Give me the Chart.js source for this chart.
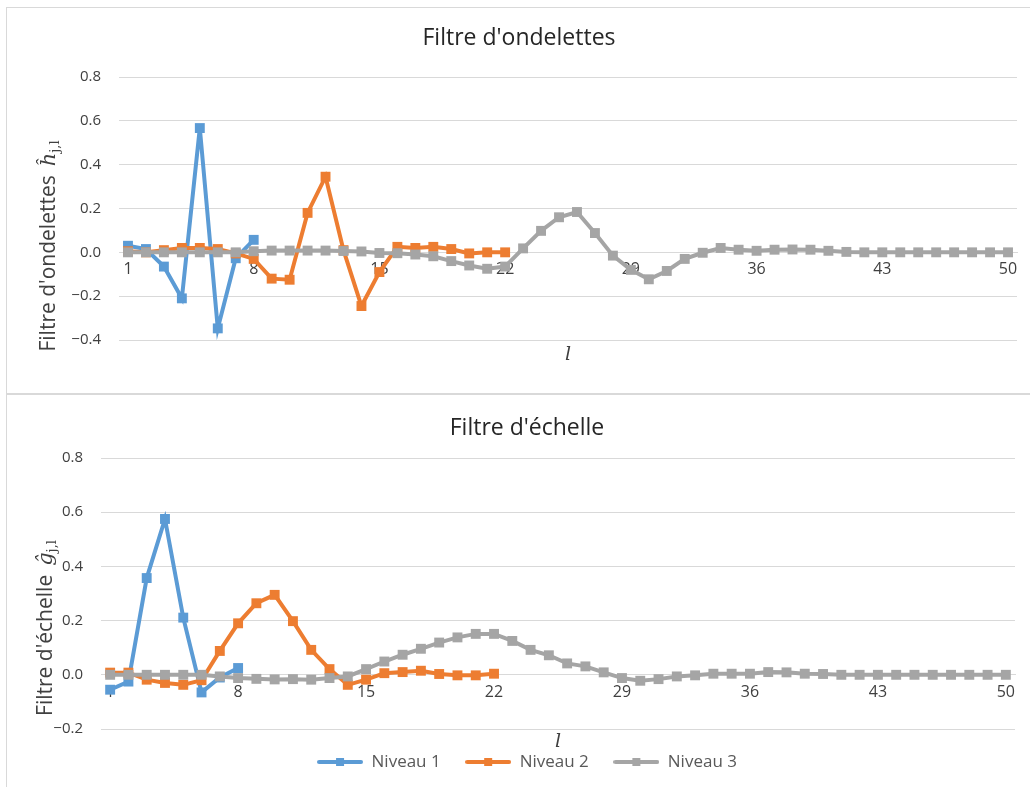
<!DOCTYPE html>
<html><head><meta charset="utf-8">
<script src="https://cdn.jsdelivr.net/npm/chart.js"></script>
<style>
html,body{margin:0;padding:0;background:#fff;overflow:hidden;width:1030px;height:787px;}
.box{position:absolute;border:1px solid #d9d9d9;overflow:hidden;background:#fff;}
#b1{left:6px;top:7px;width:1040px;height:385px;}
#b2{left:6px;top:394px;width:1040px;height:400px;}
canvas{display:block;}
</style></head><body>
<div class="box" id="b1"><canvas id="c1" width="1030" height="385"></canvas></div>
<div class="box" id="b2"><canvas id="c2" width="1030" height="392"></canvas></div>
<script>
// ---- data ----
const categories = ['1','2','3','4','5','6','7','8','9','10','11','12','13','14','15','16','17','18','19','20',
  '21','22','23','24','25','26','27','28','29','30','31','32','33','34','35','36','37','38','39','40',
  '41','42','43','44','45','46','47','48','49','50'];
const seriesNames = ['Niveau 1','Niveau 2','Niveau 3'];

// Filtre d'ondelettes (top)
const ondN1 = [0.03, 0.015, -0.065, -0.21, 0.567, -0.347, -0.027, 0.057];
const ondN2 = [0.005, 0.0, 0.01, 0.02, 0.02, 0.015, -0.005, -0.03, -0.12, -0.125, 0.18, 0.345, 0.01, -0.245, -0.09, 0.025, 0.02, 0.025, 0.015, -0.005, 0.0, 0.0];
const ondN3 = [0, 0, 0, 0, 0, 0, 0, 0.005, 0.008, 0.008, 0.008, 0.008, 0.006, 0.004, -0.003, -0.004, -0.01, -0.018, -0.04, -0.06,
  -0.075, -0.065, 0.018, 0.098, 0.16, 0.184, 0.088, -0.015, -0.08, -0.123, -0.085, -0.03, -0.002, 0.02, 0.012, 0.007, 0.012, 0.013, 0.012, 0.007,
  0.002, 0, 0, 0, 0, 0, 0, 0, 0, 0];

// Filtre d'échelle (bottom)
const echN1 = [-0.055, -0.025, 0.357, 0.575, 0.211, -0.065, -0.01, 0.025];
const echN2 = [0.008, 0.008, -0.018, -0.03, -0.037, -0.02, 0.088, 0.19, 0.264, 0.295, 0.198, 0.092, 0.021, -0.037, -0.018, 0.006, 0.01, 0.015, 0.003, -0.002, -0.002, 0.004];
const echN3 = [0, 0, 0, 0, 0, 0, -0.006, -0.012, -0.015, -0.017, -0.016, -0.018, -0.012, -0.006, 0.021, 0.049, 0.074, 0.096, 0.119, 0.138,
  0.151, 0.151, 0.125, 0.092, 0.072, 0.042, 0.031, 0.009, -0.012, -0.022, -0.016, -0.006, -0.002, 0.004, 0.004, 0.004, 0.01, 0.009, 0.004, 0.003,
  0, 0, 0, 0, 0, 0, 0, 0, 0, 0];

const colors = ['#5B9BD5', '#ED7D31', '#A5A5A5'];
const FONT = '"Open Sans", sans-serif';
const TXT = '#404040';

function legendImage(color){
  const c = document.createElement('canvas');
  c.width = 46; c.height = 10;
  const x = c.getContext('2d');
  x.strokeStyle = color; x.lineWidth = 4; x.lineCap = 'round';
  x.beginPath(); x.moveTo(2,5); x.lineTo(44,5); x.stroke();
  x.fillStyle = color; x.fillRect(19,1,8,8);
  return c;
}

function fmtTick(v){
  if (Math.abs(v) < 1e-9) return '0.0';
  const s = v.toFixed(1);
  return s.replace('-', '\u2212');
}

const axisTitles = {
  id: 'axisTitles',
  afterDraw(chart, args, o){
    const ctx = chart.ctx;
    ctx.save();
    ctx.fillStyle = TXT;
    ctx.translate(o.yx, o.yc);
    ctx.rotate(-Math.PI/2);
    const fMain = '21px ' + FONT;
    const fSym = 'italic 21px "DejaVu Serif", serif';
    const fSub = '13px "DejaVu Serif", serif';
    ctx.font = fMain; const w1 = ctx.measureText(o.main).width;
    ctx.font = fSym; const w2 = ctx.measureText(o.sym).width;
    ctx.font = fSub; const w3 = ctx.measureText(o.sub).width;
    const gap = 9;
    let x = -(w1 + gap + w2 + w3) / 2;
    ctx.textBaseline = 'alphabetic';
    ctx.font = fMain; ctx.fillText(o.main, x, 7); x += w1 + gap;
    ctx.font = fSym; ctx.fillText(o.sym, x, 7); x += w2;
    ctx.font = fSub; ctx.fillText(o.sub, x, 11);
    ctx.restore();
    ctx.save();
    ctx.fillStyle = TXT;
    ctx.font = 'italic 19px "DejaVu Serif", serif';
    ctx.textAlign = 'center'; ctx.textBaseline = 'middle';
    const ca = chart.chartArea;
    ctx.fillText('l', (ca.left + ca.right) / 2, ca.bottom + o.xdy);
    ctx.restore();
  }
};

function makeChart(id, cfg){
  const datasets = cfg.series.map((arr, i) => ({
    label: seriesNames[i],
    data: arr,
    borderColor: colors[i],
    backgroundColor: colors[i],
    borderWidth: 4,
    pointStyle: 'rect',
    pointRadius: 7,
    pointHoverRadius: 7,
    pointBorderWidth: 0,
    tension: 0,
    order: 3 - i
  }));
  return new Chart(document.getElementById(id), {
    type: 'line',
    data: { labels: categories, datasets },
    plugins: [axisTitles],
    options: {
      responsive: false,
      animation: false,
      layout: { padding: cfg.padding },
      plugins: {
        title: {
          display: true, text: cfg.title, color: '#262626',
          font: { family: FONT, size: 23, weight: 'normal' },
          padding: cfg.titlePad
        },
        legend: {
          display: cfg.legend,
          position: 'bottom',
          labels: {
            usePointStyle: true, pointStyleWidth: 46,
            color: '#595959', font: { family: FONT, size: 17 }, padding: 24.5,
            generateLabels(chart){
              return chart.data.datasets.map((d, i) => ({
                text: d.label, pointStyle: legendImage(colors[i]), datasetIndex: i,
                fillStyle: colors[i], strokeStyle: colors[i], lineWidth: 0, hidden: false, fontColor: '#595959'
              }));
            }
          }
        },
        tooltip: { enabled: false },
        axisTitles: cfg.titles
      },
      scales: {
        x: {
          type: 'category',
          position: { y: 0 },
          offset: true,
          grid: { display: false, drawTicks: false },
          border: { display: true, color: '#d9d9d9', width: 1 },
          ticks: {
            autoSkip: false, maxRotation: 0, padding: 8, color: TXT,
            font: { family: FONT, size: 16 },
            callback(v, i){ return i % 7 === 0 ? categories[i] : null; }
          }
        },
        y: {
          min: cfg.min, max: 0.8,
          grid: { color: '#d9d9d9', lineWidth: 1, drawTicks: false },
          border: { display: false },
          ticks: { stepSize: 0.2, padding: 18, color: TXT, font: { family: FONT, size: 15 }, callback: v => fmtTick(v) },
          afterFit(s){ s.width = cfg.yWidth; }
        }
      }
    }
  });
}

makeChart('c1', {
  series: [ondN1, ondN2, ondN3],
  title: "Filtre d'ondelettes",
  min: -0.4,
  padding: { left: 14, right: 20, top: 0, bottom: 53 },
  titlePad: { top: 16.2, bottom: 25.2 },
  legend: false,
  yWidth: 98,
  titles: { yx: 41, yc: 238, main: "Filtre d'ondelettes", sym: '\u0125', sub: 'j,l', xdy: 15 }
});
makeChart('c2', {
  series: [echN1, echN2, echN3],
  title: "Filtre d'échelle",
  min: -0.2,
  padding: { left: 32, right: 22, top: 0, bottom: 6.5 },
  titlePad: { top: 19.2, bottom: 16.2 },
  legend: true,
  yWidth: 62,
  titles: { yx: 38, yc: 233, main: "Filtre d'échelle", sym: '\u011D', sub: 'j,l', xdy: 13 }
});
</script>
</body></html>
